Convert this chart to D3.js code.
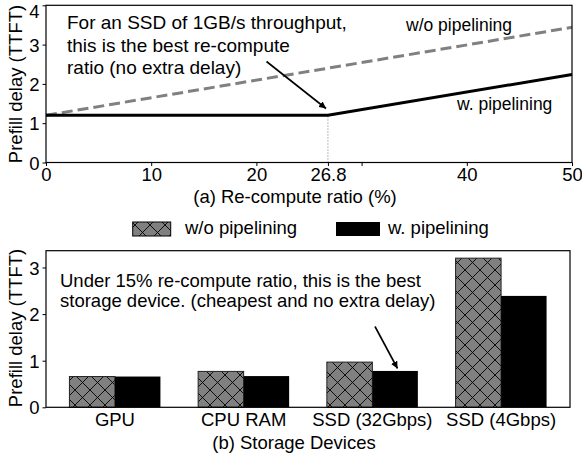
<!DOCTYPE html>
<html><head><meta charset="utf-8">
<script src="https://cdn.jsdelivr.net/npm/d3@7"></script>
<style>
body{margin:0;background:#fff;}
text{font-family:"Liberation Sans",Arial,sans-serif;fill:#000;}
</style></head>
<body><svg id="c" width="582" height="455"></svg>
<script>
// ---- data: (a) re-compute ratio ----
const ratioX = [0, 26.8, 50];
const woPipe = [1.2, 2.40, 3.44];
const wPipe = [1.2, 1.2, 2.24];
const topXTicks = [0, 10, 20, 26.8, 30, 40, 50];
const topXTickLabels = ["0", "10", "20", "26.8", "", "40", "50"];
const topYTicks = [0, 1, 2, 3, 4];
// ---- data: (b) storage devices ----
const devices = ["GPU", "CPU RAM", "SSD (32Gbps)", "SSD (4Gbps)"];
const devWo = [0.66, 0.77, 0.97, 3.2];
const devW = [0.66, 0.67, 0.78, 2.39];
const botYTicks = [0, 1, 2, 3];

const svg = d3.select("#c");
const FS = 18.5, TFS = 18.5;

// hatch pattern
const defs = svg.append("defs");
const pat = defs.append("pattern").attr("id","hx").attr("patternUnits","userSpaceOnUse")
  .attr("width",15).attr("height",15);
pat.append("rect").attr("width",15).attr("height",15).attr("fill","#808080");
pat.append("path").attr("d","M0,0L15,15M0,15L15,0M-1,1L1,-1M14,16L16,14M-1,14L1,16M14,-1L16,1")
  .attr("stroke","#000").attr("stroke-width",0.9);

// ================= Top chart =================
const xT = d3.scaleLinear().domain([0,50]).range([46,572]);
const yT = d3.scaleLinear().domain([0,4]).range([162.5,5.3]);
const gT = svg.append("g");

// dotted vertical at 26.8
gT.append("line").attr("x1",xT(26.8)).attr("x2",xT(26.8)).attr("y1",yT(0)).attr("y2",yT(wPipe[1]))
  .attr("stroke","#777").attr("stroke-width",1).attr("stroke-dasharray","1,2");

const line = d3.line().x((d,i)=>xT(ratioX[i])).y(d=>yT(d));
gT.append("path").attr("d",line(woPipe)).attr("fill","none").attr("stroke","#808080")
  .attr("stroke-width",3).attr("stroke-dasharray","11,5");
gT.append("path").attr("d",line(wPipe)).attr("fill","none").attr("stroke","#000")
  .attr("stroke-width",3);

// frame
gT.append("rect").attr("x",46).attr("y",5.3).attr("width",526).attr("height",157.2)
  .attr("fill","none").attr("stroke","#000").attr("stroke-width",1.2);

// axes
const axTB = gT.append("g").attr("transform",`translate(0,${yT(0)})`)
  .call(d3.axisBottom(xT).tickValues(topXTicks).tickSize(3.5).tickPadding(2)
    .tickFormat((d,i)=>topXTickLabels[i]));
const axTL = gT.append("g").attr("transform",`translate(46,0)`)
  .call(d3.axisLeft(yT).tickValues(topYTicks).tickSize(3.5).tickPadding(3).tickFormat(d3.format("d")));
[axTB, axTL].forEach(a=>{a.select(".domain").remove();
  a.selectAll("text").style("font-size",TFS+"px").style("font-family","Liberation Sans, Arial, sans-serif");
  a.selectAll("line").attr("stroke","#000");});
axTL.selectAll("text").attr("dy",d=>d===4?"0.68em":"0.36em");

// labels
gT.append("text").attr("transform","translate(22,84) rotate(-90)").attr("text-anchor","middle")
  .style("font-size",FS+"px").text("Prefill delay (TTFT)");
gT.append("text").attr("x",295).attr("y",203).attr("text-anchor","middle")
  .style("font-size",FS+"px").text("(a) Re-compute ratio (%)");
gT.append("text").attr("x",406).attr("y",31).style("font-size","17.5px").text("w/o pipelining");
gT.append("text").attr("x",457).attr("y",110).style("font-size","17.5px").text("w. pipelining");

const annT = ["For an SSD of 1GB/s throughput,","this is the best re-compute","ratio (no extra delay)"];
annT.forEach((t,i)=>gT.append("text").attr("x",67).attr("y",29.3+i*22.2).style("font-size","19px").text(t));

// arrow marker
defs.append("marker").attr("id","ah").attr("viewBox","0 0 10 10").attr("refX",10).attr("refY",5)
  .attr("markerWidth",7).attr("markerHeight",7).attr("markerUnits","userSpaceOnUse").attr("orient","auto")
  .append("path").attr("d","M0,0L10,5L0,10z").attr("fill","#000");
gT.append("line").attr("x1",266.5).attr("y1",61.5).attr("x2",326).attr("y2",108.5)
  .attr("stroke","#000").attr("stroke-width",1.6).attr("marker-end","url(#ah)");

// ================= Legend =================
const gL = svg.append("g");
gL.append("rect").attr("x",132.7).attr("y",222).attr("width",38).attr("height",14)
  .attr("fill","url(#hx)").attr("stroke","#000").attr("stroke-width",1);
gL.append("text").attr("x",185).attr("y",234).style("font-size",FS+"px").text("w/o pipelining");
gL.append("rect").attr("x",336).attr("y",222).attr("width",44).attr("height",14).attr("fill","#000");
gL.append("text").attr("x",388).attr("y",234).style("font-size",FS+"px").text("w. pipelining");

// ================= Bottom chart =================
const xB = d3.scaleBand().domain(devices).range([46,570]).paddingInner(0.293).paddingOuter(0.182);
const xSub = d3.scaleBand().domain(["wo","w"]).range([0,xB.bandwidth()]);
const yB = d3.scaleLinear().domain([0,3.36]).range([407.3,250.7]);
const gB = svg.append("g");

gB.selectAll("rect.wo").data(devWo).join("rect").attr("class","wo")
  .attr("x",(d,i)=>xB(devices[i])+xSub("wo")).attr("width",xSub.bandwidth())
  .attr("y",d=>yB(d)).attr("height",d=>yB(0)-yB(d))
  .attr("fill","url(#hx)").attr("stroke","#222").attr("stroke-width",1);
gB.selectAll("rect.w").data(devW).join("rect").attr("class","w")
  .attr("x",(d,i)=>xB(devices[i])+xSub("w")).attr("width",xSub.bandwidth())
  .attr("y",d=>yB(d)).attr("height",d=>yB(0)-yB(d)).attr("fill","#000");

gB.append("rect").attr("x",46).attr("y",250.7).attr("width",524).attr("height",156.6)
  .attr("fill","none").attr("stroke","#000").attr("stroke-width",1.2);

const axBB = gB.append("g").attr("transform",`translate(0,${yB(0)})`)
  .call(d3.axisBottom(xB).tickSize(0).tickPadding(6));
const axBL = gB.append("g").attr("transform",`translate(46,0)`)
  .call(d3.axisLeft(yB).tickValues(botYTicks).tickSize(3.5).tickPadding(3).tickFormat(d3.format("d")));
[axBB, axBL].forEach(a=>{a.select(".domain").remove();
  a.selectAll("text").style("font-size",TFS+"px").style("font-family","Liberation Sans, Arial, sans-serif");
  a.selectAll("line").attr("stroke","#000");});
axBL.selectAll("text").attr("dy","0.36em");

gB.append("text").attr("transform","translate(22,328) rotate(-90)").attr("text-anchor","middle")
  .style("font-size",FS+"px").text("Prefill delay (TTFT)");
gB.append("text").attr("x",294).attr("y",449).attr("text-anchor","middle")
  .style("font-size",FS+"px").text("(b) Storage Devices");

const annB = ["Under 15% re-compute ratio, this is the best","storage device. (cheapest and no extra delay)"];
annB.forEach((t,i)=>gB.append("text").attr("x",60).attr("y",286.7+i*20).style("font-size",FS+"px").text(t));
gB.append("line").attr("x1",375).attr("y1",326.5).attr("x2",397.5).attr("y2",368.5)
  .attr("stroke","#000").attr("stroke-width",1.6).attr("marker-end","url(#ah)");
</script></body></html>
